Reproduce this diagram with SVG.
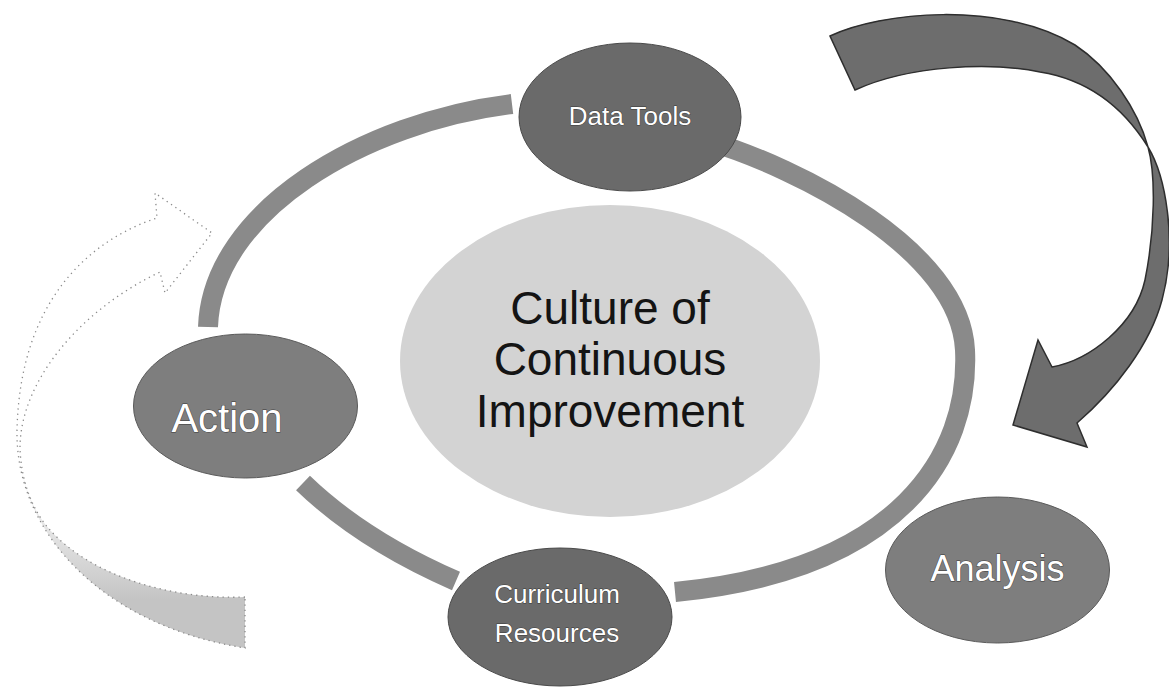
<svg xmlns="http://www.w3.org/2000/svg" width="1169" height="691" viewBox="0 0 1169 691">
  <defs>
    <style>
      .ring { fill: none; stroke: #8a8a8a; stroke-width: 20; stroke-linecap: butt; }
      .node-dark { fill: #6a6a6a; stroke: #4a4a4a; stroke-width: 1; }
      .node-mid { fill: #7e7e7e; stroke: #5a5a5a; stroke-width: 1; }
      .hub { fill: #d3d3d3; }
      .label { font-family: "Liberation Sans", Arial, sans-serif; fill: #ffffff; stroke: #3a3a3a; stroke-width: 0.9; paint-order: stroke; text-anchor: middle; }
      .hub-label { font-family: "Liberation Sans", Arial, sans-serif; fill: #141414; font-size: 46px; text-anchor: middle; }
    </style>
    <!-- the near side of the left arrow is shaded, the far side is outline only -->
    <linearGradient id="returnFade" gradientUnits="userSpaceOnUse" x1="0" y1="470" x2="0" y2="600">
      <stop offset="0" stop-color="#c8c8c8" stop-opacity="0"/>
      <stop offset="1" stop-color="#c4c4c4" stop-opacity="1"/>
    </linearGradient>
  </defs>

  <rect width="1169" height="691" fill="#ffffff"/>

  <g id="connectors">
    <!-- faint return arrow on the left -->
    <path id="return-arrow" d="M245,597 C170,600 90,575 50,530 C30,508 20,475 20,445 C22,380 80,310 160,272 L165,293 L212,233 L155,193 L157,218 C90,240 20,300 17,430 C15,530 100,625 245,648 Z" fill="url(#returnFade)" stroke="#8a8a8a" stroke-width="1.3" stroke-dasharray="1.3 4"/>

    <!-- large curved arrow on the right -->
    <path id="feedback-arrow" d="M830,36 C880,12 1000,0 1075,45 C1110,68 1138,110 1148,147 C1165,175 1178,240 1162,300 C1150,345 1115,390 1077,423 L1087,447 L1013,425 L1038,340 L1052,367 C1090,360 1135,325 1145,280 C1155,230 1156,175 1148,147 C1125,110 1090,80 1040,72 C990,62 910,65 855,90 Z" fill="#6d6d6d" stroke="#2e2e2e" stroke-width="1.5" stroke-linejoin="miter"/>

    <!-- cycle ring, broken at the nodes -->
    <path class="ring" d="M208,327 C212,210 365,122 512,104"/>
    <path class="ring" d="M705,140 C800,168 960,250 965,350 C970,455 900,570 675,592"/>
    <path class="ring" d="M303,483 Q362,540 456,581"/>
  </g>

  <g id="node-culture">
    <ellipse class="hub" cx="610" cy="361" rx="210" ry="156"/>
    <text class="hub-label" x="610" y="324">Culture of</text>
    <text class="hub-label" x="610" y="375">Continuous</text>
    <text class="hub-label" x="610" y="427">Improvement</text>
  </g>

  <g id="node-data-tools">
    <ellipse class="node-dark" cx="630" cy="117" rx="111" ry="74"/>
    <text class="label" x="630" y="125" font-size="26">Data Tools</text>
  </g>

  <g id="node-analysis">
    <ellipse class="node-mid" cx="997.5" cy="570" rx="112" ry="73"/>
    <text class="label" x="997.5" y="581" font-size="36">Analysis</text>
  </g>

  <g id="node-curriculum">
    <ellipse class="node-dark" cx="560" cy="617" rx="112" ry="69"/>
    <text class="label" x="557" y="603" font-size="26">Curriculum</text>
    <text class="label" x="557" y="642" font-size="26">Resources</text>
  </g>

  <g id="node-action">
    <ellipse class="node-mid" cx="245.5" cy="406" rx="112" ry="72"/>
    <text class="label" x="227" y="432" font-size="40">Action</text>
  </g>
</svg>
